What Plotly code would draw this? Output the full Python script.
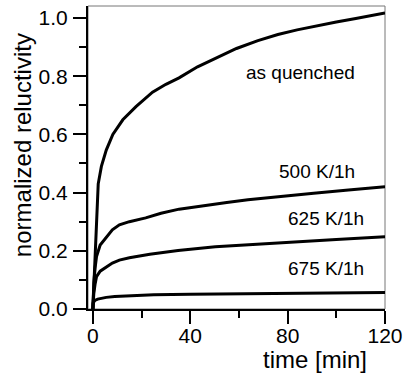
import plotly.graph_objects as go

# time [min] and normalized reluctivity
t_quenched = [0, 0.15, 0.4, 0.7, 1.1, 1.5, 2.2, 3.5, 5.5, 8.2, 12.3, 17.7, 24.5, 30, 35.4, 43, 51.6, 59, 67.8, 76, 83.9, 92, 100, 108, 114, 120]
v_quenched = [0, 0.03, 0.08, 0.13, 0.2, 0.317, 0.43, 0.49, 0.546, 0.60, 0.65, 0.695, 0.745, 0.772, 0.794, 0.832, 0.867, 0.895, 0.922, 0.943, 0.959, 0.973, 0.986, 0.998, 1.007, 1.017]

t_500 = [0, 0.1, 0.4, 0.9, 1.5, 3.0, 5.5, 8, 10.9, 15, 21.7, 28, 35.4, 45, 55, 63.7, 77, 90.7, 105, 120]
v_500 = [0, 0.04, 0.09, 0.14, 0.18, 0.22, 0.248, 0.272, 0.289, 0.300, 0.313, 0.329, 0.343, 0.355, 0.366, 0.375, 0.387, 0.398, 0.409, 0.42]

t_625 = [0, 0.1, 0.4, 0.9, 1.5, 3.0, 5.5, 8, 10.9, 15, 23.4, 35, 50.3, 67, 84, 100, 120]
v_625 = [0, 0.03, 0.055, 0.085, 0.111, 0.13, 0.145, 0.158, 0.168, 0.176, 0.188, 0.201, 0.214, 0.223, 0.231, 0.239, 0.248]

t_675 = [0, 0.1, 0.5, 1.0, 2.0, 3.5, 5.5, 9, 15, 25, 40, 60, 80, 100, 120]
v_675 = [0, 0.02, 0.026, 0.03, 0.034, 0.037, 0.04, 0.043, 0.046, 0.049, 0.051, 0.053, 0.054, 0.0555, 0.057]

labels = ["as quenched", "500 K/1h", "625 K/1h", "675 K/1h"]
label_x = [85.1, 92.2, 95.8, 95.8]
label_y = [0.811, 0.472, 0.312, 0.14]

x_ticks = [0, 40, 80, 120]
x_minor = [20, 60, 100]
y_ticks = [0.0, 0.2, 0.4, 0.6, 0.8, 1.0]
y_ticklabels = ["0.0", "0.2", "0.4", "0.6", "0.8", "1.0"]
y_minor = [0.1, 0.3, 0.5, 0.7, 0.9]

FONT = "Liberation Sans, Arial, sans-serif"

fig = go.Figure()
for tx, vy in [(t_quenched, v_quenched), (t_500, v_500), (t_625, v_625), (t_675, v_675)]:
    fig.add_trace(go.Scatter(x=tx, y=vy, mode="lines",
                             line=dict(color="black", width=3),
                             showlegend=False, hoverinfo="skip"))

for txt, ax_, ay_ in zip(labels, label_x, label_y):
    fig.add_annotation(x=ax_, y=ay_, text=txt, showarrow=False,
                       font=dict(family=FONT, size=19, color="black"),
                       xanchor="center", yanchor="middle")

fig.add_annotation(xref="paper", yref="paper", x=0.763, y=-0.168, text="time [min]",
                   showarrow=False, font=dict(family=FONT, size=24, color="black"),
                   xanchor="center", yanchor="middle")
fig.add_annotation(xref="paper", yref="paper", x=-0.222, y=0.541, text="normalized reluctivity",
                   showarrow=False, textangle=-90, font=dict(family=FONT, size=24, color="black"),
                   xanchor="center", yanchor="middle")

# thin frame on top and right
fig.add_shape(type="rect", xref="paper", yref="paper", x0=0, y0=0, x1=1, y1=1,
              line=dict(color="#777777", width=1), layer="below")

fig.update_layout(
    width=409, height=378,
    margin=dict(l=88, r=19, t=6, b=69),
    paper_bgcolor="white", plot_bgcolor="white",
    font=dict(family=FONT, size=21, color="black"),
    xaxis=dict(range=[-2, 120], tickvals=x_ticks, ticks="outside", ticklen=13, tickwidth=2,
               tickcolor="black", showline=True, linecolor="black", linewidth=2,
               showgrid=False, zeroline=False, ticklabelstandoff=-6,
               tickfont=dict(family=FONT, size=21, color="black"),
               minor=dict(tickvals=x_minor, ticks="outside", ticklen=7, tickwidth=2,
                          tickcolor="black", showgrid=False)),
    yaxis=dict(range=[0, 1.041], tickvals=y_ticks, ticktext=y_ticklabels, ticks="outside",
               ticklen=13, tickwidth=2, tickcolor="black", showline=True, linecolor="black",
               linewidth=2, showgrid=False, zeroline=False, ticklabelstandoff=1,
               tickfont=dict(family=FONT, size=21, color="black"),
               minor=dict(tickvals=y_minor, ticks="outside", ticklen=7,
                          tickwidth=2, tickcolor="black", showgrid=False)),
)

fig.write_html("out.html", config={"displayModeBar": False},
               post_script="document.body.style.margin='0';document.body.style.padding='0';")
